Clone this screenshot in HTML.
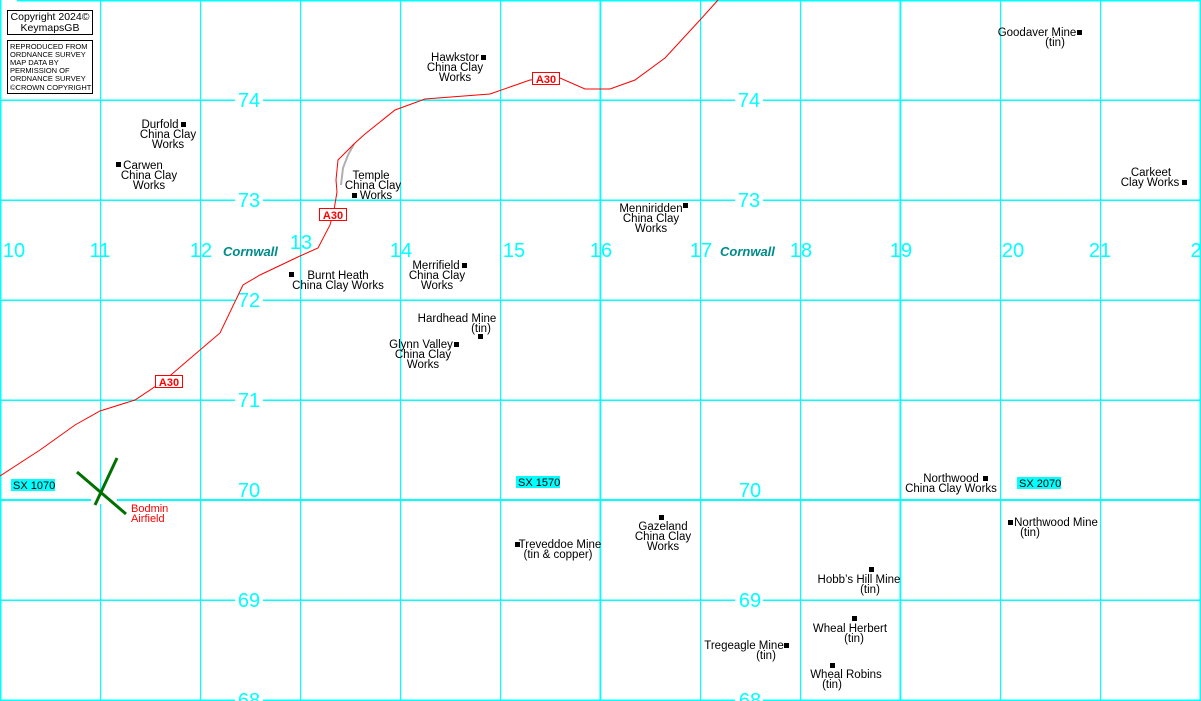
<!DOCTYPE html>
<html><head><meta charset="utf-8"><style>
html,body{margin:0;padding:0;background:#fff;}
svg{display:block;}
text{font-family:"Liberation Sans",Arial,sans-serif;}
.t{font-size:11.5px;fill:#000;}
.n{font-size:20px;fill:#00ffff;}
.c{font-size:13px;fill:#008b8b;font-weight:bold;font-style:italic;}
</style></head><body>
<svg width="1201" height="701" viewBox="0 0 1201 701" xmlns="http://www.w3.org/2000/svg">
<rect width="1201" height="701" fill="#fff"/>
<g fill="#00ffff">
<rect x="17" y="0" width="1184" height="1.5"/>
<rect x="0" y="99.5" width="1201" height="1.5"/>
<rect x="0" y="199.5" width="1201" height="1.5"/>
<rect x="0" y="299.5" width="1201" height="1.5"/>
<rect x="0" y="399.5" width="1201" height="1.5"/>
<rect x="0" y="499" width="1201" height="2"/>
<rect x="0" y="599.5" width="1201" height="1.5"/>
<rect x="0" y="699.5" width="1201" height="1.5"/>
<rect x="0" y="0" width="1.5" height="701"/>
<rect x="100" y="0" width="1.2" height="701"/>
<rect x="200" y="0" width="1.2" height="701"/>
<rect x="300" y="0" width="1.2" height="701"/>
<rect x="400" y="0" width="1.2" height="701"/>
<rect x="500" y="0" width="1.2" height="701"/>
<rect x="599.5" y="0" width="1.8" height="701"/>
<rect x="700" y="0" width="1.2" height="701"/>
<rect x="800" y="0" width="1.2" height="701"/>
<rect x="899.5" y="0" width="1.8" height="701"/>
<rect x="1000" y="0" width="1.2" height="701"/>
<rect x="1100" y="0" width="1.2" height="701"/>
<rect x="1199.5" y="0" width="1.5" height="701"/>
</g>
<g fill="#fff">
<rect x="235" y="90" width="28" height="20"/><rect x="735" y="90" width="28" height="20"/>
<rect x="235" y="190" width="28" height="20"/><rect x="735" y="190" width="28" height="20"/>
<rect x="235" y="290" width="28" height="20"/>
<rect x="235" y="390" width="28" height="20"/>
<rect x="235" y="590" width="28" height="20"/><rect x="735" y="590" width="28" height="20"/>
<rect x="235" y="690" width="28" height="11"/><rect x="735" y="690" width="28" height="11"/>
<rect x="91" y="496" width="26" height="8"/>
</g>
<g class="n" text-anchor="middle">
<text x="249" y="107">74</text><text x="749" y="107">74</text>
<text x="249" y="207">73</text><text x="749" y="207">73</text>
<text x="249" y="307">72</text>
<text x="249" y="407">71</text>
<text x="249" y="497">70</text><text x="750" y="497">70</text>
<text x="249" y="607">69</text><text x="750" y="607">69</text>
<text x="249" y="707">68</text><text x="750" y="707">68</text>
<text x="14" y="257">10</text><text x="100" y="257">11</text><text x="201" y="257">12</text>
<text x="301" y="249">13</text><text x="401" y="257">14</text><text x="514" y="257">15</text>
<text x="601" y="257">16</text><text x="701" y="257">17</text><text x="801" y="257">18</text>
<text x="901" y="257">19</text><text x="1013" y="257">20</text><text x="1100" y="257">21</text>
<text x="1196" y="257">2</text>
</g>
<text class="c" x="223" y="256">Cornwall</text>
<text class="c" x="720" y="256">Cornwall</text>
<rect x="7.5" y="10.5" width="85" height="24" fill="#fff" stroke="#000"/>
<text x="50" y="20" text-anchor="middle" font-size="10.5">Copyright 2024©</text>
<text x="50" y="31" text-anchor="middle" font-size="10.5">KeymapsGB</text>
<rect x="7.5" y="40.5" width="85" height="53" fill="#fff" stroke="#000"/>
<g font-size="7.5"><text x="10" y="49">REPRODUCED FROM</text><text x="10" y="57">ORDNANCE SURVEY</text><text x="10" y="65">MAP DATA BY</text><text x="10" y="73">PERMISSION OF</text><text x="10" y="81">ORDNANCE SURVEY</text><text x="10" y="90">©CROWN COPYRIGHT</text></g>
<polyline fill="none" stroke="#b0b0b0" stroke-width="2" points="341,185 343,168 348,155 354,144"/>
<polyline fill="none" stroke="#ff0000" stroke-width="1" points="0,476 40,450 75,425 100,411 135,400 165,380 200,350 220,333 243,285 260,275 300,256 318,248 330,225 334,210 337,192 336,180 338,160 345,153 355,143 365,134 395,110 425,99 490,94 530,80 560,78 585,89 610,89 635,80 665,58 700,20 718,0"/>
<g font-size="11" font-weight="bold" fill="#ff0000" text-anchor="middle">
<rect x="155.5" y="375.5" width="27" height="12" fill="#fff" stroke="#f00"/><text x="169" y="386">A30</text>
<rect x="319.5" y="208.5" width="27" height="12" fill="#fff" stroke="#f00"/><text x="333" y="219">A30</text>
<rect x="532.5" y="72.5" width="27" height="12" fill="#fff" stroke="#f00"/><text x="546" y="83">A30</text>
</g>
<g stroke="#007000" stroke-width="3"><line x1="77" y1="472" x2="126" y2="514"/><line x1="95" y1="505" x2="117" y2="458"/></g>
<text x="131" y="512" font-size="11" fill="#ff0000">Bodmin</text><text x="131" y="522" font-size="11" fill="#ff0000">Airfield</text>
<g font-size="11"><rect x="11" y="479" width="44" height="12" fill="#00ffff"/><text x="13" y="489">SX 1070</text>
<rect x="516" y="476" width="44" height="12" fill="#00ffff"/><text x="518" y="486">SX 1570</text>
<rect x="1017" y="477" width="44" height="12" fill="#00ffff"/><text x="1019" y="487">SX 2070</text></g>
<g fill="#000">
<rect x="181" y="122" width="5" height="5"/><rect x="116" y="162" width="5" height="5"/>
<rect x="481" y="55" width="5" height="5"/><rect x="352" y="193" width="5" height="5"/>
<rect x="683" y="203" width="5" height="5"/><rect x="1077" y="30" width="5" height="5"/>
<rect x="1182" y="180" width="5" height="5"/><rect x="289" y="272" width="5" height="5"/>
<rect x="462" y="263" width="5" height="5"/><rect x="478" y="334" width="5" height="5"/>
<rect x="454" y="342" width="5" height="5"/><rect x="983" y="476" width="5" height="5"/>
<rect x="1008" y="520" width="5" height="5"/><rect x="515" y="542" width="5" height="5"/>
<rect x="659" y="515" width="5" height="5"/><rect x="869" y="567" width="5" height="5"/>
<rect x="852" y="616" width="5" height="5"/><rect x="784" y="643" width="5" height="5"/>
<rect x="830" y="663" width="5" height="5"/>
</g>
<g class="t" text-anchor="middle">
<text x="160" y="128">Durfold</text><text x="168" y="138">China Clay</text><text x="168" y="148">Works</text>
<text x="143" y="169">Carwen</text><text x="149" y="179">China Clay</text><text x="149" y="189">Works</text>
<text x="455" y="61">Hawkstor</text><text x="455" y="71">China Clay</text><text x="455" y="81">Works</text>
<text x="371" y="179">Temple</text><text x="373" y="189">China Clay</text><text x="376" y="199">Works</text>
<text x="651" y="212">Menniridden</text><text x="651" y="222">China Clay</text><text x="651" y="232">Works</text>
<text x="1037" y="36">Goodaver Mine</text><text x="1055" y="46">(tin)</text>
<text x="1151" y="176">Carkeet</text><text x="1150" y="186">Clay Works</text>
<text x="338" y="279">Burnt Heath</text><text x="338" y="289">China Clay Works</text>
<text x="436" y="269">Merrifield</text><text x="437" y="279">China Clay</text><text x="437" y="289">Works</text>
<text x="457" y="322">Hardhead Mine</text><text x="481" y="332">(tin)</text>
<text x="421" y="348">Glynn Valley</text><text x="423" y="358">China Clay</text><text x="423" y="368">Works</text>
<text x="951" y="482">Northwood</text><text x="951" y="492">China Clay Works</text>
<text x="1056" y="526">Northwood Mine</text><text x="1030" y="536">(tin)</text>
<text x="560" y="548">Treveddoe Mine</text><text x="558" y="558">(tin &amp; copper)</text>
<text x="663" y="530">Gazeland</text><text x="663" y="540">China Clay</text><text x="663" y="550">Works</text>
<text x="859" y="583">Hobb’s Hill Mine</text><text x="870" y="593">(tin)</text>
<text x="850" y="632">Wheal Herbert</text><text x="854" y="642">(tin)</text>
<text x="744" y="649">Tregeagle Mine</text><text x="766" y="659">(tin)</text>
<text x="846" y="678">Wheal Robins</text><text x="832" y="688">(tin)</text>
</g>
</svg>
</body></html>
